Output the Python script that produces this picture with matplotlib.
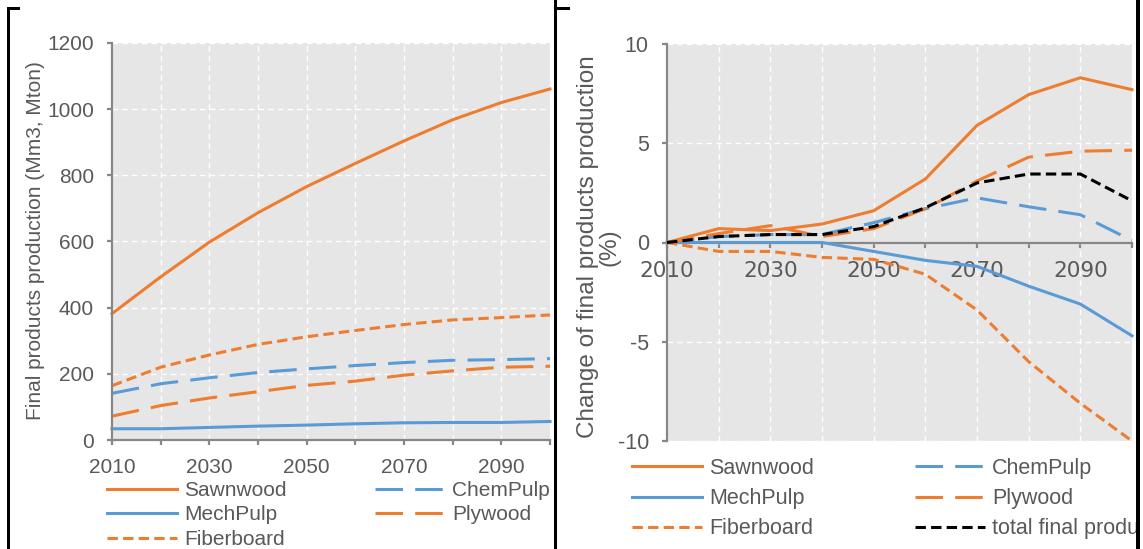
import matplotlib
matplotlib.use('Agg')
import matplotlib.pyplot as plt
from matplotlib import font_manager
from matplotlib.patches import Rectangle

plt.rcParams['axes.unicode_minus'] = False

# ---------------- data ----------------
years = [2010, 2020, 2030, 2040, 2050, 2060, 2070, 2080, 2090, 2100]
xtick_labels = ['2010', '', '2030', '', '2050', '', '2070', '', '2090', '']

# Left: final products production (Mm3, Mton)
prod_sawnwood = [382, 493, 598, 687, 766, 836, 904, 968, 1020, 1061]
prod_chempulp = [141, 170, 188, 204, 215, 225, 234, 241, 243, 246]
prod_mechpulp = [34, 34, 38, 42, 45, 49, 52, 53, 53, 56]
prod_plywood = [72, 104, 127, 146, 165, 178, 196, 209, 220, 223]
prod_fiberboard = [164, 220, 257, 289, 312, 331, 349, 363, 370, 378]

# Right: change of final products production (%)
chg_sawnwood = [0, 0.70, 0.60, 0.93, 1.6, 3.2, 5.9, 7.45, 8.3, 7.7]
chg_chempulp = [0, 0.30, 0.40, 0.40, 1.0, 1.7, 2.25, 1.8, 1.4, 0.1]
chg_mechpulp = [0, 0.0, 0.0, 0.0, -0.45, -0.9, -1.2, -2.2, -3.1, -4.7]
chg_plywood = [0, 0.45, 0.85, 0.30, 0.7, 1.7, 3.1, 4.3, 4.6, 4.65]
chg_fiberboard = [0, -0.45, -0.45, -0.75, -0.85, -1.6, -3.4, -6.0, -8.1, -10.0]
chg_total = [0, 0.30, 0.40, 0.40, 0.8, 1.75, 3.0, 3.45, 3.45, 2.1]

left_names = ['Sawnwood', 'ChemPulp', 'MechPulp', 'Plywood', 'Fiberboard']
right_names = ['Sawnwood', 'ChemPulp', 'MechPulp', 'Plywood', 'Fiberboard',
               'total final products']

# ---------------- style ----------------
W, H = 1143, 549
ORANGE = '#ED7D31'
BLUE = '#5B9BD5'
TXT = '#595959'
SPINE = '#878787'
BG = '#E7E6E6'
LW = 2.2
LONG = (0, (9, 4))
SHORT = (0, (3.4, 1.7))

names = {f.name for f in font_manager.fontManager.ttflist}
FONT_L = 'Liberation Sans' if 'Liberation Sans' in names else 'DejaVu Sans'
FONT_R = 'Liberation Sans Narrow' if 'Liberation Sans Narrow' in names else FONT_L
SIZE_L = 15
SIZE_R = 17.5 if FONT_R != FONT_L else 15.5

styles = {
    'Sawnwood': dict(color=ORANGE, linestyle='-'),
    'ChemPulp': dict(color=BLUE, linestyle=LONG),
    'MechPulp': dict(color=BLUE, linestyle='-'),
    'Plywood': dict(color=ORANGE, linestyle=LONG),
    'Fiberboard': dict(color=ORANGE, linestyle=SHORT),
    'total final products': dict(color='black', linestyle=SHORT),
}

fig = plt.figure(figsize=(W / 100, H / 100), dpi=100)


def fx(px):
    return px / W


def fy(py):
    return 1 - py / H


def make_axes(x0, x1, ytop, ybot):
    return fig.add_axes([fx(x0), fy(ybot), fx(x1) - fx(x0), fy(ytop) - fy(ybot)])


def style_axes(ax, font, size):
    ax.set_facecolor(BG)
    for s in ['top', 'right']:
        ax.spines[s].set_visible(False)
    for s in ['left', 'bottom']:
        ax.spines[s].set_color(SPINE)
        ax.spines[s].set_linewidth(1.6)
    ax.set_xlim(2010, 2100)
    ax.set_xticks(years)
    ax.set_xticklabels(xtick_labels)
    ax.tick_params(direction='out', length=3.6, width=1.6, color=SPINE,
                   labelcolor=TXT, labelsize=size)
    ax.tick_params(axis='y', pad=9.5)
    ax.tick_params(axis='x', pad=9.5)
    ax.grid(True, color='white', linestyle=(0, (4, 3)), linewidth=1)
    ax.set_axisbelow(True)


def fix_fonts(ax, font):
    for lab in ax.get_xticklabels() + ax.get_yticklabels():
        lab.set_fontfamily(font)


def add_legend(handles, labels, x_px, top_px, font, size, spacing):
    em = size * 100 / 72
    fig.legend(handles, labels, loc='upper left',
               bbox_to_anchor=(fx(x_px), fy(top_px)), bbox_transform=fig.transFigure,
               frameon=False, borderpad=0, borderaxespad=0,
               handlelength=70 / em, handletextpad=7 / em,
               labelspacing=spacing, prop={'family': font, 'size': size},
               labelcolor=TXT)


# ---------------- left panel ----------------
ax1 = make_axes(112, 550, 43, 440)
style_axes(ax1, FONT_L, SIZE_L)
ax1.set_ylim(0, 1200)
ax1.set_yticks(range(0, 1201, 200))
fix_fonts(ax1, FONT_L)

left_data = [prod_sawnwood, prod_chempulp, prod_mechpulp, prod_plywood, prod_fiberboard]
lh = {}
for name, vals in zip(left_names, left_data):
    ln, = ax1.plot(years, vals, linewidth=LW, clip_on=False, **styles[name])
    lh[name] = ln

fig.text(fx(36), fy(241), 'Final products production (Mm3, Mton)', rotation=90,
         ha='center', va='center', fontsize=15, color=TXT, family=FONT_L)

add_legend([lh['Sawnwood'], lh['MechPulp'], lh['Fiberboard']],
           ['Sawnwood', 'MechPulp', 'Fiberboard'], 107, 481, FONT_L, SIZE_L, 0.26)
add_legend([lh['ChemPulp'], lh['Plywood']],
           ['ChemPulp', 'Plywood'], 375, 481, FONT_L, SIZE_L, 0.26)

# ---------------- right panel ----------------
ax2 = make_axes(667, 1132, 44, 441)
style_axes(ax2, FONT_R, SIZE_R)
ax2.set_ylim(-10, 10)
ax2.set_yticks([-10, -5, 0, 5, 10])
fix_fonts(ax2, FONT_R)
ax2.spines['bottom'].set_position(('data', 0))
ax2.spines['bottom'].set_zorder(3)

right_data = [chg_sawnwood, chg_chempulp, chg_mechpulp, chg_plywood, chg_fiberboard, chg_total]
rh = {}
for name, vals in zip(right_names, right_data):
    ln, = ax2.plot(years, vals, linewidth=LW, clip_on=False, zorder=4, **styles[name])
    rh[name] = ln

fig.text(fx(599), fy(247), 'Change of final products production\n(%)', rotation=90,
         ha='center', va='center', ma='center', fontsize=17.5, color=TXT, family=FONT_R,
         linespacing=1.0)

add_legend([rh['Sawnwood'], rh['MechPulp'], rh['Fiberboard']],
           ['Sawnwood', 'MechPulp', 'Fiberboard'], 632, 458, FONT_R, SIZE_R, 0.42)
add_legend([rh['ChemPulp'], rh['Plywood'], rh['total final products']],
           ['ChemPulp', 'Plywood', 'total final products'], 915, 458, FONT_R, SIZE_R, 0.42)

# ---------------- panel borders ----------------
def rect_px(x, y, w, h, color='black'):
    fig.add_artist(Rectangle((fx(x), fy(y + h)), w / W, h / H, transform=fig.transFigure,
                             facecolor=color, edgecolor='none', zorder=50))


rect_px(1137, 0, 6, H, 'white')
rect_px(7, 7, 2.5, H - 7)
rect_px(7, 7, 13, 2.5)
rect_px(554, 0, 3, H)
rect_px(554, 7, 16, 2.5)
rect_px(1136, 0, 3.5, H)

fig.savefig('out.png', dpi=100)
